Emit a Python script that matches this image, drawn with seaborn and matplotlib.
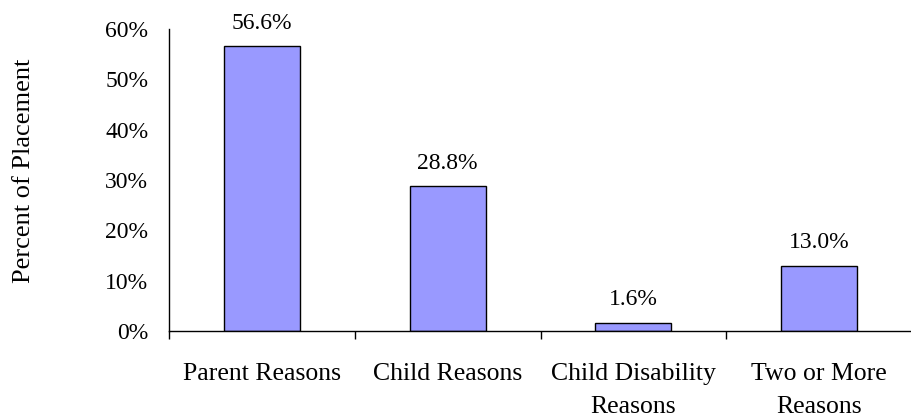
import numpy as np
import pandas as pd
import matplotlib
matplotlib.use("Agg")
import matplotlib.pyplot as plt
from matplotlib.ticker import FuncFormatter, FixedLocator
import seaborn as sns

categories = ["Parent Reasons", "Child Reasons", "Child Disability\nReasons", "Two or More\nReasons"]
percents = [56.6, 28.8, 1.6, 13.0]
y_ticks = [0, 10, 20, 30, 40, 50, 60]

df = pd.DataFrame({"reason": categories, "percent": percents})

sns.set_style("white")
plt.rcParams["font.family"] = ["Liberation Serif", "DejaVu Serif"]
plt.rcParams["text.color"] = "black"
plt.rcParams["xtick.color"] = "black"
plt.rcParams["ytick.color"] = "black"

fig = plt.figure(figsize=(9.11, 4.18), dpi=100)
ax = fig.add_axes([169 / 911, 87 / 418, 743 / 911, 302 / 418])

sns.barplot(data=df, x="reason", y="percent", color="#9999FF", saturation=1,
            edgecolor="black", linewidth=1.0, width=0.41, ax=ax)

ax.set_xlim(-0.5, 3.5)
ax.set_ylim(0, 60)
ax.set_yticks(y_ticks)
ax.yaxis.set_major_formatter(FuncFormatter(lambda v, _: f"{v:.0f}%"))
ax.tick_params(axis="y", length=6, width=1, color="black", labelcolor="black",
               pad=9, labelsize=17)

# category labels centred, boundary ticks between categories
ax.tick_params(axis="x", which="major", length=0, pad=23, labelsize=18.5, labelcolor="black")
ax.xaxis.set_minor_locator(FixedLocator(np.arange(-0.5, 4, 1.0)))
ax.tick_params(axis="x", which="minor", length=6, width=1, color="black", bottom=True)
for lbl in ax.get_xticklabels():
    lbl.set_linespacing(1.65)

ax.set_xlabel("")
ax.set_ylabel("")
sns.despine(ax=ax, top=True, right=True)
for side in ["left", "bottom"]:
    ax.spines[side].set_color("black")
    ax.spines[side].set_linewidth(1)

for i, v in enumerate(percents):
    ax.annotate(f"{v:.1f}%", (i, v), xytext=(0, 9), textcoords="offset points",
                ha="center", va="bottom", fontsize=17, color="black")

fig.text(24 / 911, 1 - 171 / 418, "Percent of Placement", rotation=90,
         ha="center", va="center", fontsize=19, color="black")

fig.savefig("out.png", dpi=100)
